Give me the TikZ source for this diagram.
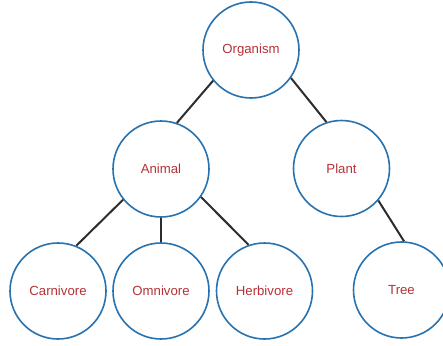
\documentclass[tikz,border=0pt]{standalone}
\usepackage{fontspec}
\setmainfont{Liberation Sans}
\definecolor{ringblue}{RGB}{40,115,175}
\definecolor{labelred}{RGB}{180,50,55}
\definecolor{edgegray}{RGB}{45,45,45}
\begin{document}
\begin{tikzpicture}[x=1pt,y=-1pt,
  concept/.style={circle,draw=ringblue,line width=1.6pt,minimum size=96pt,inner sep=0pt,
    font=\fontsize{13.2}{15}\selectfont,text=labelred},
  link/.style={draw=edgegray,line width=2pt}]
\useasboundingbox (0,0) rectangle (443,345);
\node[concept] (organism)  at (251,50)    {Organism};
\node[concept] (animal)    at (161,169)   {Animal};
\node[concept] (plant)     at (341.5,168.5) {Plant};
\node[concept] (carnivore) at (58,291)    {Carnivore};
\node[concept] (omnivore)  at (161,291)   {Omnivore};
\node[concept] (herbivore) at (264.5,291) {Herbivore};
\node[concept] (tree)      at (401.5,290) {Tree};
\draw[link] (organism.219) -- (animal.71);
\draw[link] (organism.325) -- (plant.108);
\draw[link] (animal.219) -- (carnivore.68);
\draw[link] (animal.south) -- (omnivore.north);
\draw[link] (animal.325) -- (herbivore.109);
\draw[link] (plant.319) -- (tree.87);
\end{tikzpicture}
\end{document}
